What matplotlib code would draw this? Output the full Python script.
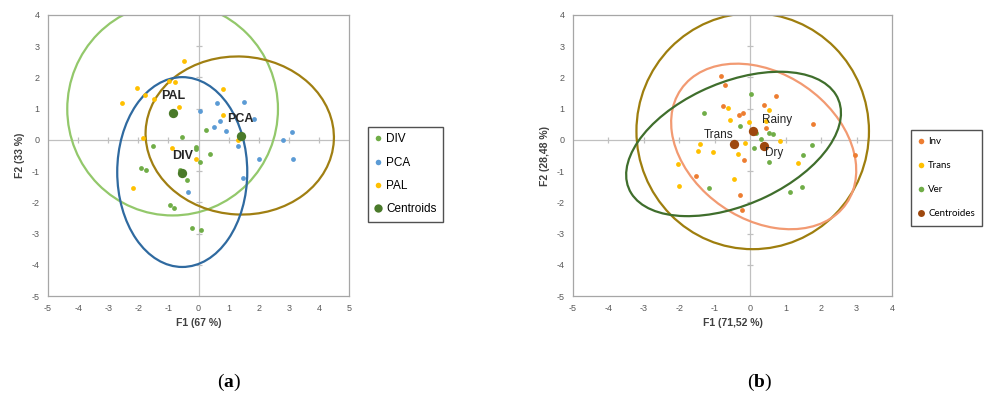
import numpy as np
import matplotlib
matplotlib.use('Agg')
import matplotlib.pyplot as plt
from matplotlib.patches import Ellipse
from matplotlib.lines import Line2D

plt.rcParams['font.family'] = ['Liberation Sans', 'DejaVu Sans']
plt.rcParams['axes.unicode_minus'] = False
plt.rcParams['mathtext.fontset'] = 'custom'
plt.rcParams['mathtext.bf'] = 'Liberation Serif:bold'
plt.rcParams['mathtext.rm'] = 'Liberation Serif'

# ---- panel (a) data ----
pal_x = [-0.48, -0.97, -0.79, -2.04, -1.79, -1.48, -2.55, -0.65, 0.80, 0.82, -1.86, -0.87, -0.07, 1.32, -2.19]
pal_y = [2.54, 1.90, 1.84, 1.65, 1.45, 1.31, 1.17, 1.05, 1.63, 0.81, 0.07, -0.25, -0.60, 0.00, -1.55]
pca_x = [0.06, 0.63, 1.50, 0.70, 0.52, 0.93, 1.86, 2.80, 3.10, 3.15, 1.31, 2.00, 1.47, -0.34]
pca_y = [0.92, 1.17, 1.22, 0.61, 0.42, 0.28, 0.66, 0.01, 0.26, -0.61, -0.21, -0.62, -1.21, -1.68]
div_x = [0.25, -0.55, -0.08, -0.08, -1.52, 0.38, 0.04, -1.92, -1.74, -0.61, -0.39, -0.96, -0.81, -0.22, 0.08]
div_y = [0.33, 0.09, -0.23, -0.30, -0.18, -0.44, -0.72, -0.91, -0.98, -0.95, -1.30, -2.08, -2.17, -2.83, -2.89]
cent_a_names = ['PAL', 'DIV', 'PCA']
cent_a_x = [-0.84, -0.54, 1.40]
cent_a_y = [0.86, -1.05, 0.14]
# ellipses: center x, center y, width, height, angle
ell_a = {
    'green': (-0.86, 0.99, 7.0, 6.82, 0),
    'gold': (1.37, 0.14, 6.26, 5.06, -3),
    'blue': (-0.54, -1.03, 4.32, 6.08, 0),
}

# ---- panel (b) data ----
inv_x = [-0.82, -0.70, 0.72, 0.39, -0.76, -0.21, -0.31, 1.78, 0.44, 2.95, -0.17, -1.53, -0.29, -0.22]
inv_y = [2.04, 1.77, 1.41, 1.13, 1.10, 0.86, 0.80, 0.50, 0.37, -0.49, -0.64, -1.16, -1.77, -2.23]
trans_x = [-0.62, 0.52, -0.58, -0.03, 0.45, 0.84, -0.16, -1.42, -1.47, -1.06, -0.34, -2.05, 1.36, -0.45, -2.02]
trans_y = [1.01, 0.96, 0.65, 0.58, 0.60, -0.02, -0.11, -0.13, -0.34, -0.38, -0.44, -0.76, -0.73, -1.26, -1.49]
ver_x = [0.02, -1.29, -0.29, 0.15, 0.29, 0.52, 0.63, 1.74, 1.50, 0.11, 0.53, -1.17, 1.12, 1.45]
ver_y = [1.47, 0.87, 0.43, 0.21, 0.02, 0.23, 0.19, -0.17, -0.48, -0.27, -0.70, -1.55, -1.67, -1.51]
cent_b_names = ['Rainy', 'Trans', 'Dry']
cent_b_x = [0.08, -0.47, 0.38]
cent_b_y = [0.30, -0.13, -0.21]
ell_b = {
    'gold': (0.07, 0.28, 6.56, 7.56, 0),
    'salmon': (0.38, -0.21, 5.98, 4.43, -46.5),
    'green': (-0.47, -0.13, 6.58, 3.85, 28.7),
}

fig = plt.figure(figsize=(9.84, 3.94), dpi=100)
W, H = 984.0, 394.0
ax1 = fig.add_axes([48 / W, 1 - 296 / H, 301 / W, 281 / H])
ax2 = fig.add_axes([573 / W, 1 - 296 / H, 319 / W, 281 / H])


def style_axes(ax, xlim, ylim, xlabel, ylabel):
    ax.set_xlim(*xlim)
    ax.set_ylim(*ylim)
    ax.set_xticks(range(xlim[0], xlim[1] + 1))
    ax.set_yticks(range(ylim[0], ylim[1] + 1))
    ax.tick_params(length=0, labelsize=6.5, colors='#595959', pad=6)
    for s in ax.spines.values():
        s.set_color('#a6a6a6')
        s.set_linewidth(0.9)
    ax.axhline(0, color='#c0c0c0', lw=0.9, zorder=0)
    ax.axvline(0, color='#c0c0c0', lw=0.9, zorder=0)
    xt = [t for t in range(xlim[0] + 1, xlim[1]) if t != 0]
    yt = [t for t in range(ylim[0] + 1, ylim[1]) if t != 0]
    ax.plot(xt, [0] * len(xt), ls='none', marker='|', ms=5, mew=0.9, color='#c0c0c0', zorder=0)
    ax.plot([0] * len(yt), yt, ls='none', marker='_', ms=5, mew=0.9, color='#c0c0c0', zorder=0)
    ax.set_xlabel(xlabel, fontsize=7.5, fontweight='bold', color='#404040', labelpad=3)
    ax.set_ylabel(ylabel, fontsize=7.5, fontweight='bold', color='#404040', labelpad=5)


style_axes(ax1, (-5, 5), (-5, 4), 'F1 (67 %)', 'F2 (33 %)')
style_axes(ax2, (-5, 4), (-5, 4), 'F1 (71,52 %)', 'F2 (28,48 %)')

# panel (a)
ell_cols_a = {'green': '#93c86b', 'gold': '#a07f12', 'blue': '#2f6aa0'}
for k, (cx, cy, w, h, ang) in ell_a.items():
    ax1.add_patch(Ellipse((cx, cy), w, h, angle=ang, fill=False, ec=ell_cols_a[k], lw=1.6, zorder=2))
ax1.scatter(div_x, div_y, s=12, color='#70ad47', zorder=3, lw=0)
ax1.scatter(pca_x, pca_y, s=12, color='#5b9bd5', zorder=3, lw=0)
ax1.scatter(pal_x, pal_y, s=12, color='#ffc000', zorder=3, lw=0)
ax1.scatter(cent_a_x, cent_a_y, s=45, color='#4a7a2a', zorder=4, lw=0)
lab_off_a = {'PAL': (0.0, 0.53), 'DIV': (0.01, 0.55), 'PCA': (0.0, 0.52)}
for n, x, y in zip(cent_a_names, cent_a_x, cent_a_y):
    dx, dy = lab_off_a[n]
    ax1.text(x + dx, y + dy, n, fontsize=9, fontweight='bold', color='#262626',
             ha='center', va='center', zorder=5)

# panel (b)
ell_cols_b = {'gold': '#9e7e0e', 'salmon': '#f29a72', 'green': '#3f6e2c'}
for k, (cx, cy, w, h, ang) in ell_b.items():
    ax2.add_patch(Ellipse((cx, cy), w, h, angle=ang, fill=False, ec=ell_cols_b[k], lw=1.6, zorder=2))
ax2.scatter(inv_x, inv_y, s=12, color='#ed7d31', zorder=3, lw=0)
ax2.scatter(trans_x, trans_y, s=12, color='#ffc000', zorder=3, lw=0)
ax2.scatter(ver_x, ver_y, s=12, color='#70ad47', zorder=3, lw=0)
ax2.scatter(cent_b_x, cent_b_y, s=45, color='#9e480e', zorder=4, lw=0)
lab_off_b = {'Rainy': (0.67, 0.33), 'Trans': (-0.43, 0.30), 'Dry': (0.30, -0.21)}
for n, x, y in zip(cent_b_names, cent_b_x, cent_b_y):
    dx, dy = lab_off_b[n]
    ax2.text(x + dx, y + dy, n, fontsize=8.5, color='#262626', ha='center', va='center', zorder=5)

# legends
def handle(c, ms=4, marker='o'):
    return Line2D([], [], ls='none', marker=marker, ms=ms, color=c, mew=0)

leg1 = fig.legend([handle('#70ad47'), handle('#5b9bd5'), handle('#ffc000'), handle('#4a7a2a', 6)],
                  ['DIV', 'PCA', 'PAL', 'Centroids'], loc='upper left',
                  bbox_to_anchor=(368 / W, 1 - 127 / H), fontsize=8.5, frameon=True, fancybox=False,
                  edgecolor='#262626', handlelength=0.6, handletextpad=0.4, labelspacing=0.95,
                  borderpad=0.55, borderaxespad=0)
leg1.get_frame().set_linewidth(1.0)
leg2 = fig.legend([handle('#ed7d31'), handle('#ffc000'), handle('#70ad47'), handle('#9e480e', 5)],
                  ['Inv', 'Trans', 'Ver', 'Centroides'], loc='upper left',
                  bbox_to_anchor=(911 / W, 1 - 130 / H), frameon=True, fancybox=False,
                  edgecolor='#262626', handlelength=0.6, handletextpad=0.4, labelspacing=1.55,
                  borderpad=0.75, borderaxespad=0, prop={'family': 'Lato', 'size': 7})
leg2.get_frame().set_linewidth(1.0)

fig.text(229 / W, 1 - 382 / H, r'($\mathbf{a}$)', fontsize=14, ha='center', va='center', family='Liberation Serif')
fig.text(760 / W, 1 - 382 / H, r'($\mathbf{b}$)', fontsize=14, ha='center', va='center', family='Liberation Serif')

fig.savefig('out.png', dpi=100)
